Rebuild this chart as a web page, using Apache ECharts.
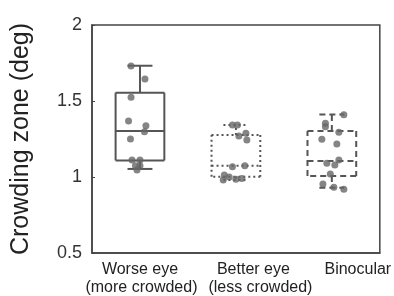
<!DOCTYPE html>
<html>
<head>
<meta charset="utf-8">
<script src="https://cdn.jsdelivr.net/npm/echarts@6/dist/echarts.min.js"></script>
<style>html,body{margin:0;padding:0;background:#fff}#c{width:394px;height:296px}</style>
</head>
<body>
<div id="c"></div>
<script>
var categories = ['Worse eye\n(more crowded)', 'Better eye\n(less crowded)', 'Binocular'];
var yTicks = [0.5, 1, 1.5, 2];
// box stats: [lower whisker, Q1, median, Q3, upper whisker]
var worseBox = [1.053, 1.109, 1.303, 1.555, 1.732];
var betterBox = [0.98, 1.002, 1.074, 1.276, 1.342];
var binoBox = [0.93, 1.007, 1.105, 1.303, 1.412];
// individual points
var worseVals = [1.73, 1.645, 1.524, 1.368, 1.337, 1.298, 1.25, 1.112, 1.112, 1.074, 1.074, 1.046];
var worseJit = [-0.093, 0.052, -0.093, -0.119, 0.062, 0.047, -0.099, -0.083, 0, -0.047, 0, -0.031];
var betterVals = [1.342, 1.342, 1.27, 1.288, 1.243, 1.068, 1.074, 1.013, 1.0, 0.98, 0.985, 0.99];
var betterJit = [-0.036, 0.016, 0.031, 0.104, 0.114, -0.036, 0.093, -0.121, -0.07, -0.132, 0, 0.062];
var binoVals = [1.41, 1.353, 1.331, 1.294, 1.248, 1.217, 1.112, 1.09, 1.079, 1.02, 0.954, 0.932, 0.919];
var binoJit = [0.125, -0.067, -0.067, 0.073, -0.104, 0.052, 0.073, -0.052, 0.031, -0.016, -0.093, 0.021, 0.125];

var boxes = [worseBox, betterBox, binoBox];
var dashes = ['solid', [2, 3], [6, 4]];
var boxData = boxes.map(function (b, i) { return [i].concat(b); });
var pts = [];
[[worseVals, worseJit], [betterVals, betterJit], [binoVals, binoJit]].forEach(function (g, i) {
  g[0].forEach(function (v, k) { pts.push([i + g[1][k], v]); });
});

// label line styles (the reference labels sit right of their ticks)
var lblBase = { color: '#222', fontSize: 16, fontFamily: 'Liberation Sans', lineHeight: 18 };
function lbl(padLeft) { return Object.assign({ padding: [0, 0, 0, padLeft] }, lblBase); }
var rich = { w1: lbl(0), w2: lbl(3), b1: lbl(35), b2: lbl(49), n1: lbl(52) };
var richKeys = [['w1', 'w2'], ['b1', 'b2'], ['n1']];

var chart = echarts.init(document.getElementById('c'));
var lineColor = '#555555';
chart.setOption({
  animation: false,
  grid: { left: 92, right: 13, top: 25, bottom: 43, show: true, borderColor: '#444', borderWidth: 1.5 },
  xAxis: [{
    type: 'category', data: categories, boundaryGap: true,
    axisLine: { onZero: false, lineStyle: { color: '#444', width: 1.5 } },
    axisTick: { inside: true, alignWithLabel: true, length: 3, lineStyle: { color: '#444' } },
    axisLabel: {
      interval: 0, margin: 8, rich: rich,
      formatter: function (v, i) {
        return v.split('\n').map(function (line, k) { return '{' + richKeys[i][k] + '|' + line + '}'; }).join('\n');
      }
    }
  }, {
    type: 'value', min: -0.5, max: 2.5, show: false
  }],
  yAxis: {
    type: 'value', min: 0.5, max: 2, interval: 0.5,
    name: 'Crowding zone (deg)', nameLocation: 'middle', nameGap: 58,
    nameTextStyle: { color: '#222', fontSize: 25, fontFamily: 'Liberation Sans' },
    axisLine: { show: true, onZero: false, lineStyle: { color: '#444', width: 1.5 } },
    axisTick: { show: true, inside: true, length: 3, lineStyle: { color: '#444' } },
    splitLine: { show: false },
    axisLabel: { color: '#333', fontSize: 18, fontFamily: 'Liberation Sans', margin: 10,
      formatter: function (v) { return yTicks.indexOf(v) >= 0 ? String(v) : ''; } }
  },
  series: [{
    type: 'custom',
    xAxisIndex: 0,
    data: boxData,
    renderItem: function (params, api) {
      var x = api.value(0);
      var band = api.size([1, 0])[0];
      var hw = band * 0.254, cw = band * 0.13;
      var pMin = api.coord([x, api.value(1)]);
      var pQ1 = api.coord([x, api.value(2)]);
      var pMed = api.coord([x, api.value(3)]);
      var pQ3 = api.coord([x, api.value(4)]);
      var pMax = api.coord([x, api.value(5)]);
      var cx = pMin[0];
      var style = { stroke: lineColor, lineWidth: 2, fill: null, lineDash: dashes[params.dataIndex] };
      function ln(x1, y1, x2, y2) { return { type: 'line', shape: { x1: x1, y1: y1, x2: x2, y2: y2 }, style: style }; }
      return { type: 'group', children: [
        ln(cx - hw, pQ3[1], cx + hw, pQ3[1]),
        ln(cx + hw, pQ3[1], cx + hw, pQ1[1]),
        ln(cx + hw, pQ1[1], cx - hw, pQ1[1]),
        ln(cx - hw, pQ1[1], cx - hw, pQ3[1]),
        ln(cx - hw, pMed[1], cx + hw, pMed[1]),
        ln(cx, pQ3[1], cx, pMax[1]),
        ln(cx, pQ1[1], cx, pMin[1]),
        ln(cx - cw, pMax[1], cx + cw, pMax[1]),
        ln(cx - cw, pMin[1], cx + cw, pMin[1])
      ] };
    }
  }, {
    type: 'scatter', xAxisIndex: 1, data: pts, symbolSize: 7,
    itemStyle: { color: '#666666' }, z: 5
  }]
});
</script>
</body>
</html>
